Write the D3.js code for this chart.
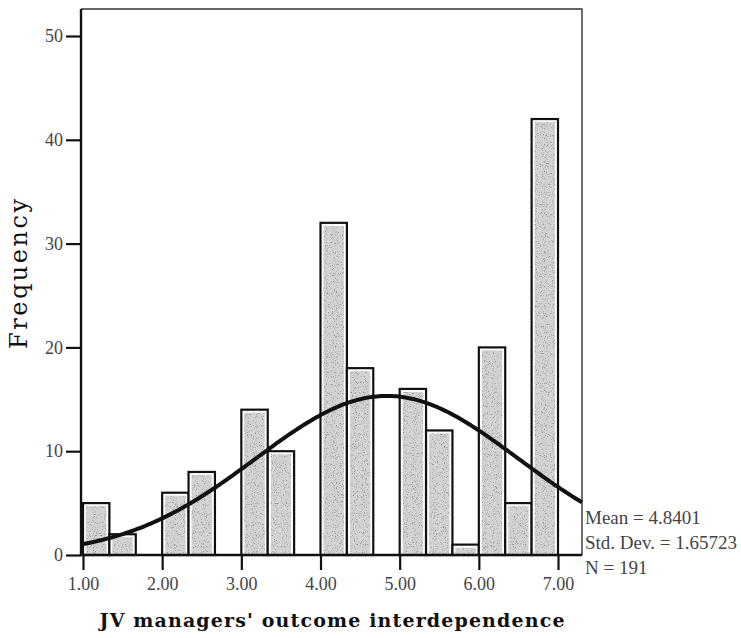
<!DOCTYPE html>
<html>
<head>
<meta charset="utf-8">
<script src="https://cdn.jsdelivr.net/npm/d3@7"></script>
<style>
  html, body { margin: 0; padding: 0; background: #fff; }
  svg { display: block; }
</style>
</head>
<body>
<svg id="chart" width="741" height="638"></svg>
<script>
// Histogram bins: lower edge of each bin (width 1/3) and its frequency
const binLower = [1.0, 4/3, 5/3, 2.0, 7/3, 8/3, 3.0, 10/3, 11/3, 4.0, 13/3, 14/3, 5.0, 16/3, 17/3, 6.0, 19/3, 20/3];
const binWidth = 1 / 3;
const frequency = [5, 2, 0, 6, 8, 0, 14, 10, 0, 32, 18, 0, 16, 12, 1, 20, 5, 42];

// Axis ticks
const xTickValues = [1, 2, 3, 4, 5, 6, 7];
const xTickLabels = ["1.00", "2.00", "3.00", "4.00", "5.00", "6.00", "7.00"];
const yTickValues = [0, 10, 20, 30, 40, 50];

// Summary statistics shown beside the plot
const statLabels = ["Mean = 4.8401", "Std. Dev. = 1.65723", "N = 191"];
const stats = { mean: 4.8401, sd: 1.65723, n: 191 };

const svg = d3.select("#chart");

const x = d3.scaleLinear().domain([1, 7]).range([83, 558]);
const y = d3.scaleLinear().domain([0, 50]).range([555, 36]);
const frameX = [0.975, 7.303];
const frameTop = 52.6;

// grainy stipple used inside the bars
const defs = svg.append("defs");
const f = defs.append("filter").attr("id", "grain")
  .attr("x", 0).attr("y", 0).attr("width", "100%").attr("height", "100%");
f.append("feTurbulence").attr("type", "fractalNoise")
  .attr("baseFrequency", 0.9).attr("numOctaves", 2).attr("seed", 7).attr("result", "noise");
f.append("feColorMatrix").attr("in", "noise").attr("type", "matrix")
  .attr("values", "0 0 0 0 0.3  0 0 0 0 0.3  0 0 0 0 0.3  5 0 0 0 -2.75")
  .attr("result", "dots");
f.append("feComposite").attr("in", "dots").attr("in2", "SourceGraphic").attr("operator", "in").attr("result", "clipped");
f.append("feMerge").call(m => {
  m.append("feMergeNode").attr("in", "SourceGraphic");
  m.append("feMergeNode").attr("in", "clipped");
});

const fontSerif = "'Liberation Serif', 'Times New Roman', serif";
const fontWide = "'DejaVu Serif', serif";

// plot frame (top and right sides)
svg.append("path")
  .attr("d", `M${x(frameX[0])},${y(frameTop)} H${x(frameX[1])} V${y(0)}`)
  .attr("fill", "none").attr("stroke", "#333").attr("stroke-width", 1.4);

// bars
const bars = svg.append("g");
const binData = binLower.map((lo, i) => ({ lo, hi: lo + binWidth, count: frequency[i] }))
  .filter(d => d.count > 0);

bars.selectAll("rect.outer").data(binData).join("rect")
  .attr("class", "outer")
  .attr("x", d => x(d.lo))
  .attr("y", d => y(d.count))
  .attr("width", d => x(d.hi) - x(d.lo))
  .attr("height", d => y(0) - y(d.count))
  .attr("fill", "#fff").attr("stroke", "#111").attr("stroke-width", 2.2);

bars.selectAll("rect.inner").data(binData).join("rect")
  .attr("class", "inner")
  .attr("x", d => x(d.lo) + 3)
  .attr("y", d => y(d.count) + 3)
  .attr("width", d => Math.max(0, x(d.hi) - x(d.lo) - 6))
  .attr("height", d => Math.max(0, y(0) - y(d.count) - 4))
  .attr("fill", "#d4d4d4")
  .attr("filter", "url(#grain)");

// fitted normal curve
const scaleN = stats.n * binWidth / (stats.sd * Math.sqrt(2 * Math.PI));
const normal = v => scaleN * Math.exp(-0.5 * Math.pow((v - stats.mean) / stats.sd, 2));
const curvePts = d3.range(0, 201).map(i => {
  const v = frameX[0] + (frameX[1] - frameX[0]) * i / 200;
  return [v, normal(v)];
});
svg.append("path")
  .datum(curvePts)
  .attr("d", d3.line().x(d => x(d[0])).y(d => y(d[1])))
  .attr("fill", "none").attr("stroke", "#111").attr("stroke-width", 4)
  .attr("stroke-linejoin", "round");

// y axis
const yAxis = svg.append("g")
  .attr("transform", `translate(${x(frameX[0])},0)`)
  .call(d3.axisLeft(y).tickValues(yTickValues).tickSize(15).tickPadding(3).tickFormat(d3.format("d")));
yAxis.select(".domain")
  .attr("d", `M0,${y(frameTop)}V${y(0)}`)
  .attr("stroke", "#111").attr("stroke-width", 2.4);
yAxis.selectAll(".tick line").attr("stroke", "#111").attr("stroke-width", 2.2);
yAxis.selectAll(".tick text")
  .attr("font-family", fontSerif).attr("font-size", 18).attr("fill", "#444");

// x axis
const xAxis = svg.append("g")
  .attr("transform", `translate(0,${y(0)})`)
  .call(d3.axisBottom(x).tickValues(xTickValues).tickSize(15).tickPadding(7)
    .tickFormat((d, i) => xTickLabels[i]));
xAxis.select(".domain")
  .attr("d", `M${x(frameX[0])},0H${x(frameX[1])}`)
  .attr("stroke", "#111").attr("stroke-width", 2.4);
xAxis.selectAll(".tick line").attr("stroke", "#111").attr("stroke-width", 2.2);
xAxis.selectAll(".tick text")
  .attr("font-family", fontSerif).attr("font-size", 18).attr("fill", "#444");

// axis titles
svg.append("text")
  .attr("transform", "translate(27,274) rotate(-90)")
  .attr("text-anchor", "middle")
  .attr("font-family", fontWide).attr("font-size", 24).attr("fill", "#111")
  .attr("textLength", 150).attr("lengthAdjust", "spacing")
  .text("Frequency");

svg.append("text")
  .attr("x", 332).attr("y", 627)
  .attr("text-anchor", "middle")
  .attr("font-family", fontWide).attr("font-size", 19).attr("font-weight", "bold").attr("fill", "#111")
  .attr("textLength", 465).attr("lengthAdjust", "spacing")
  .text("JV managers' outcome interdependence");

// statistics block
svg.append("g").selectAll("text").data(statLabels).join("text")
  .attr("x", 585)
  .attr("y", (d, i) => 524 + i * 25)
  .attr("font-family", fontSerif).attr("font-size", 19).attr("fill", "#444")
  .text(d => d);
</script>
</body>
</html>
